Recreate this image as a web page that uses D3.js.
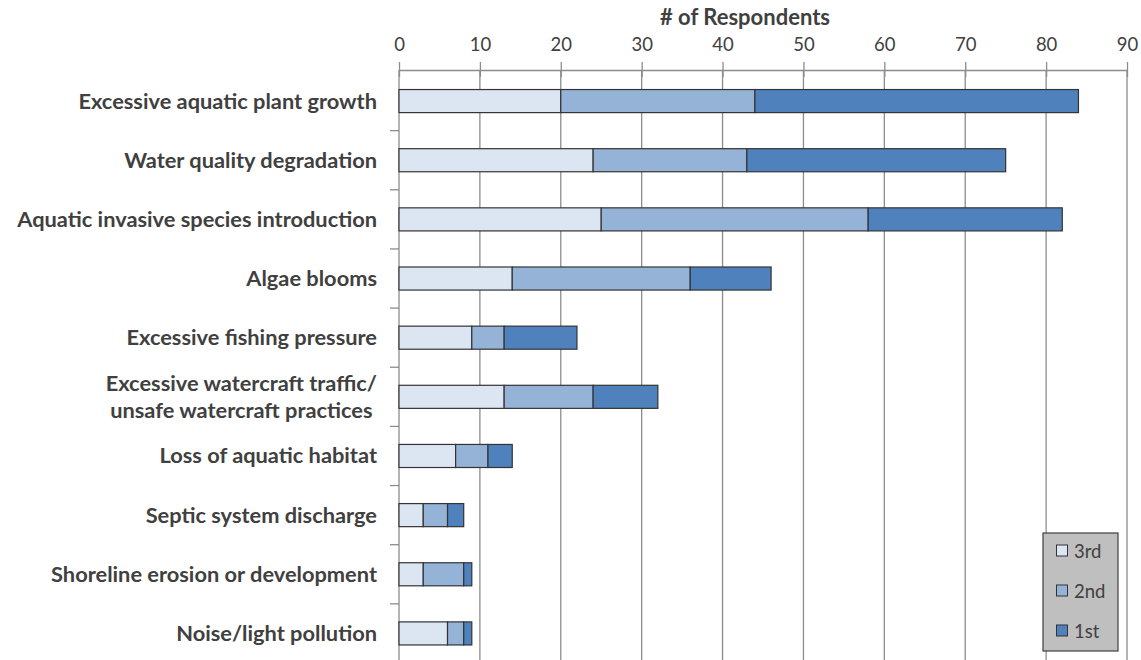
<!DOCTYPE html>
<html><head><meta charset="utf-8">
<script src="https://cdn.jsdelivr.net/npm/d3@7"></script>
<style>body{margin:0;background:#fff;} svg{display:block;}</style>
</head><body>
<script>
const categories = [
  ["Excessive aquatic plant growth"],
  ["Water quality degradation"],
  ["Aquatic invasive species introduction"],
  ["Algae blooms"],
  ["Excessive fishing pressure"],
  ["Excessive watercraft traffic/", "unsafe watercraft practices"],
  ["Loss of aquatic habitat"],
  ["Septic system discharge"],
  ["Shoreline erosion or development"],
  ["Noise/light pollution"]
];
const third  = [20, 24, 25, 14, 9, 13, 7, 3, 3, 6];
const second = [24, 19, 33, 22, 4, 11, 4, 3, 5, 2];
const first  = [40, 32, 24, 10, 9, 8, 3, 2, 1, 1];
const seriesNames = ["3rd", "2nd", "1st"];
const seriesColors = ["#dce6f2", "#95b3d7", "#4f81bd"];
const xTicks = [0,10,20,30,40,50,60,70,80,90];
const axisTitle = "# of Respondents";

(function(){
const W = 1141, H = 660;
const svg = d3.select("body").append("svg").attr("width", W).attr("height", H);
const pL = 399, pR = 1127, pT = 70, pB = 663;
const x = d3.scaleLinear().domain([0, 90]).range([pL, pR]);
const y = d3.scaleBand().domain(d3.range(categories.length)).range([pT + 1.5, pB]).paddingInner(0.61).paddingOuter(0.305);
const font = "Lato, 'Open Sans', sans-serif";
const textColor = "#404040";
const gridColor = "#8c8c8c";
const labelSize = 21.8;

// gridlines
svg.append("g").selectAll("line").data(xTicks.slice(1)).join("line")
  .attr("x1", d => x(d)).attr("x2", d => x(d)).attr("y1", pT).attr("y2", H)
  .attr("stroke", gridColor).attr("stroke-width", 1.3);

// top axis
const xAxis = d3.axisTop(x).tickValues(xTicks).tickSize(0).tickPadding(0);
const gx = svg.append("g").attr("transform", `translate(0,${pT})`).call(xAxis);
gx.select(".domain").attr("stroke", gridColor).attr("stroke-width", 1.3);
gx.selectAll(".tick text").attr("y", -19).attr("font-family", font).attr("font-size", 18.5).attr("fill", textColor);
gx.selectAll(".tick line").remove();
gx.selectAll(".tick").append("line").attr("y1", -8).attr("y2", 7).attr("stroke", gridColor).attr("stroke-width", 1.3);

svg.append("text").attr("x", (pL + pR) / 2 - 18).attr("y", 25).attr("text-anchor", "middle")
  .attr("font-family", font).attr("font-weight", "bold").attr("font-size", 22).attr("fill", textColor).text(axisTitle);

// left axis
svg.append("line").attr("x1", pL).attr("x2", pL).attr("y1", pT).attr("y2", H).attr("stroke", gridColor).attr("stroke-width", 1.3);
const step = y.step();
svg.append("g").selectAll("line").data(d3.range(1, categories.length)).join("line")
  .attr("x1", pL - 9).attr("x2", pL).attr("y1", d => y(d) - step * 0.305).attr("y2", d => y(d) - step * 0.305)
  .attr("stroke", gridColor).attr("stroke-width", 1.3);

// stacked bars
const rows = categories.map((c, i) => ({i, v: [third[i], second[i], first[i]]}));
const stack = d3.stack().keys([0,1,2]).value((d, k) => d.v[k]);
const stacked = stack(rows);
svg.append("g").selectAll("g").data(stacked).join("g")
  .attr("fill", (d, k) => seriesColors[k])
  .selectAll("rect").data(d => d).join("rect")
  .attr("x", d => x(d[0])).attr("width", d => x(d[1]) - x(d[0]))
  .attr("y", d => y(d.data.i)).attr("height", y.bandwidth())
  .attr("stroke", "#333").attr("stroke-width", 1.2);

// category labels
const lab = svg.append("g");
categories.forEach((lines, i) => {
  const cy = y(i) + y.bandwidth() / 2;
  const lh = 27;
  if (lines.length === 1) {
    lab.append("text").attr("font-family", font).attr("font-weight", "bold").attr("font-size", labelSize).attr("fill", textColor)
      .attr("x", 377).attr("y", cy + 7.5).attr("text-anchor", "end").text(lines[0]);
  } else {
    const tmp = [];
    lines.forEach((ln, j) => {
      tmp.push(lab.append("text").attr("font-family", font).attr("font-weight", "bold").attr("font-size", labelSize).attr("fill", textColor)
        .attr("y", cy + 7.5 + (j - (lines.length - 1) / 2) * lh).text(ln));
    });
    const wmax = d3.max(tmp, s => s.node().getComputedTextLength());
    const cx = 377 - wmax / 2;
    tmp.forEach(s => s.attr("x", cx).attr("text-anchor", "middle"));
  }
});

// legend
const lg = svg.append("g");
lg.append("rect").attr("x", 1043).attr("y", 533).attr("width", 75).attr("height", 118)
  .attr("fill", "#bfbfbf").attr("stroke", "#404040").attr("stroke-width", 1.2);
seriesNames.forEach((n, k) => {
  const yy = 551 + k * 40;
  lg.append("rect").attr("x", 1056.5).attr("y", yy - 6).attr("width", 11).attr("height", 11)
    .attr("fill", seriesColors[k]).attr("stroke", "#333").attr("stroke-width", 1);
  lg.append("text").attr("x", 1074).attr("y", yy + 6.5).attr("font-family", font).attr("font-size", 18.5)
    .attr("fill", textColor).text(n);
});
})();
</script>
</body></html>
